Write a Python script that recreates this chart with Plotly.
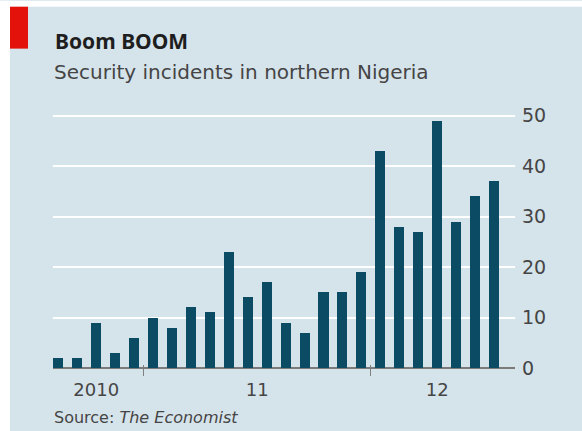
import plotly.graph_objects as go

# Monthly security incidents, Aug 2010 - Jul 2012
incidents_2010 = [2, 2, 9, 3, 6]
incidents_2011 = [10, 8, 12, 11, 23, 14, 17, 9, 7, 15, 15, 19]
incidents_2012 = [43, 28, 27, 49, 29, 34, 37]
incidents = incidents_2010 + incidents_2011 + incidents_2012
months = list(range(len(incidents)))

year_labels = ["2010", "11", "12"]
y_ticks = [0, 10, 20, 30, 40, 50]

# year boundaries and label centres on the month index scale
bounds = [len(incidents_2010) - 0.5, len(incidents_2010) + len(incidents_2011) - 0.5]
label_pos = [
    (len(incidents_2010) - 1) / 2,
    len(incidents_2010) + (len(incidents_2011) - 1) / 2,
    len(incidents_2010) + len(incidents_2011) + (len(incidents_2012) - 1) / 2,
]

W, H = 582, 431
ML, MR, MT, MB = 53, 67, 112.5, 63
PW, PH = W - ML - MR, H - MT - MB

BG = "#d5e3eb"
BAR = "#0b4b63"
TXT = "#454545"
FONT = "DejaVu Sans"
TITLE_FONT = "Noto Sans"


def px(x):
    return (x - ML) / PW


def py(y):
    return (H - MB - y) / PH


fig = go.Figure()
fig.add_trace(go.Bar(x=months, y=incidents, marker_color=BAR, marker_line_width=0,
                     width=0.53, xaxis="x", yaxis="y"))
# invisible trace so the label axis gets drawn
fig.add_trace(go.Scatter(x=[label_pos[0]], y=[0], mode="markers", marker_opacity=0,
                         xaxis="x2", yaxis="y", showlegend=False, hoverinfo="skip"))
# short inside ticks so the year dividers straddle the baseline
fig.add_trace(go.Scatter(x=[label_pos[0]], y=[0], mode="markers", marker_opacity=0,
                         xaxis="x3", yaxis="y", showlegend=False, hoverinfo="skip"))

xr = [-0.28, 24.11]
fig.update_layout(
    width=W, height=H,
    margin=dict(l=ML, r=MR, t=MT, b=MB),
    paper_bgcolor=BG, plot_bgcolor=BG,
    showlegend=False,
    font=dict(family=FONT, color=TXT),
    bargap=0,
    xaxis=dict(range=xr, tickvals=bounds, ticktext=["", ""], ticks="outside",
               ticklen=7, tickwidth=1, tickcolor="#808080", showgrid=False,
               zeroline=False, showline=False),
    xaxis2=dict(range=xr, overlaying="x", side="bottom", tickvals=label_pos,
                ticktext=year_labels, ticks="", showgrid=False, zeroline=False,
                showline=False, tickfont=dict(size=18, color=TXT), ticklabelstandoff=9),
    xaxis3=dict(range=xr, overlaying="x", side="bottom", tickvals=bounds,
                ticktext=["", ""], ticks="inside", ticklen=3, tickwidth=1,
                tickcolor="#808080", showgrid=False, zeroline=False, showline=False),
    yaxis=dict(range=[0, 50.5], side="right", tickvals=y_ticks, showgrid=True,
               gridcolor="white", gridwidth=1.6, zeroline=True, zerolinecolor="#7a7a7a",
               zerolinewidth=1.5, ticks="", tickfont=dict(size=19, color=TXT),
               ticklabelstandoff=6),
    shapes=[
        # white frame strips on the left and top
        dict(type="rect", xref="paper", yref="paper", x0=px(0), x1=px(10), y0=py(H), y1=py(0),
             fillcolor="white", line_width=0, layer="below"),
        dict(type="rect", xref="paper", yref="paper", x0=px(0), x1=px(W), y0=py(6), y1=py(0),
             fillcolor="white", line_width=0, layer="below"),
        # red tag
        dict(type="rect", xref="paper", yref="paper", x0=px(10), x1=px(28), y0=py(48), y1=py(6),
             fillcolor="#e3120b", line_width=0),
    ],
    annotations=[
        dict(text="<b>Boom BOOM</b>", xref="paper", yref="paper", x=px(53), y=py(40),
             xanchor="left", yanchor="middle", showarrow=False,
             font=dict(size=21, color="#1e1e1e", family=TITLE_FONT)),
        dict(text="Security incidents in northern Nigeria", xref="paper", yref="paper",
             x=px(52), y=py(71), xanchor="left", yanchor="middle", showarrow=False,
             font=dict(size=20, color=TXT, family=FONT)),
        dict(text="Source: <i>The Economist</i>", xref="paper", yref="paper",
             x=px(52), y=py(418), xanchor="left", yanchor="middle", showarrow=False,
             font=dict(size=16, color=TXT, family=FONT)),
    ],
)

fig.write_html("out.html")
